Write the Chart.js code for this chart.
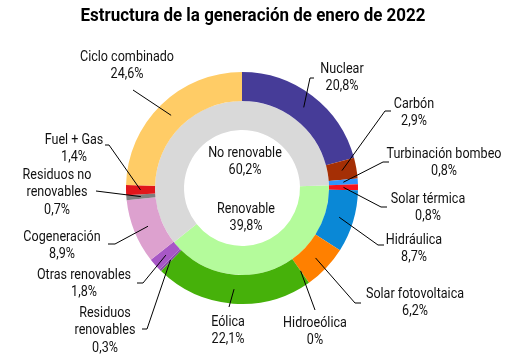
<!DOCTYPE html>
<html>
<head>
<meta charset="utf-8">
<script src="https://cdn.jsdelivr.net/npm/chart.js@4/dist/chart.umd.min.js"></script>
<style>
  html, body { margin: 0; padding: 0; background: #fff; }
  #wrap { width: 520px; height: 361px; position: relative; }
</style>
</head>
<body>
<div id="wrap"><canvas id="chart"></canvas></div>
<script>
// data (percent of January 2022 generation)
const title = 'Estructura de la generación de enero de 2022';
const categories = [
    'Nuclear', 'Carbón', 'Turbinación bombeo', 'Solar térmica', 'Hidráulica',
    'Solar fotovoltaica', 'Hidroeólica', 'Eólica', 'Residuos\nrenovables',
    'Otras renovables', 'Cogeneración', 'Residuos no\nrenovables', 'Fuel + Gas',
    'Ciclo combinado'
];
const shares = [20.8, 2.9, 0.8, 0.8, 8.7, 6.2, 0, 22.1, 0.3, 1.8, 8.9, 0.7, 1.4, 24.6];
const renewable = [false, false, false, true, true, true, true, true, true, true, false, false, false, false];
const groups = ['Renovable', 'No renovable'];
const groupShares = [39.8, 60.2];

const colors = [
    '#463C98', '#A52F05', '#2E95FF', '#F5141E', '#0A88D6',
    '#FF8000', '#6FB7D9', '#46B10A', '#8A4BA8',
    '#A757C6', '#DDA1CF', '#7F7F7F', '#E1161B', '#FFCC66'
];
const groupColors = ['#B4FB9B', '#D9D9D9'];

const FONT = 'Roboto, "Noto Sans", sans-serif';

// label placement: text centre x, first line y, leader elbow x/y, tick length
const labelSpots = [
    [342, 69, 310, 78, 4],     // Nuclear
    [414, 104, 385, 111, 6],   // Carbón
    [444, 154, 383, 162, 6],   // Turbinación bombeo
    [428, 199, 381, 207, 6],   // Solar térmica
    [414, 240, 378, 245, 6],   // Hidráulica
    [415, 294, 355, 303, 6],   // Solar fotovoltaica
    [315, 323, 315, 310, 0],   // Hidroeólica
    [228, 322, 229, 307, 0],   // Eólica
    [105, 313, 147, 329, -5],  // Residuos renovables
    [84, 275, 143, 283, -6],   // Otras renovables
    [62, 237, 115, 244, -7],   // Cogeneración
    [57, 175, 96, 191, 0],     // Residuos no renovables
    [74, 140, 109, 145, -4],   // Fuel + Gas
    [127, 57, 133, 90, 0]      // Ciclo combinado
];

function pct(v) {
    return v === 0 ? '0%' : v.toFixed(1).replace('.', ',') + '%';
}

// the reference uses a condensed face, so squeeze Roboto horizontally
function squeezed(ctx, text, x, y, sx) {
    ctx.save();
    ctx.translate(x, y);
    ctx.scale(sx, 1);
    ctx.fillText(text, 0, 0);
    ctx.restore();
}

// where the renewable half of the inner ring starts
const firstRen = renewable.indexOf(true);
const innerStart = shares.slice(0, firstRen).reduce((a, b) => a + b, 0) * 3.6;

const labelsPlugin = {
    id: 'labels',
    afterDatasetsDraw(chart) {
        const ctx = chart.ctx;
        const arcs = chart.getDatasetMeta(0).data;
        ctx.save();
        ctx.strokeStyle = '#000';
        ctx.lineWidth = 1;
        ctx.fillStyle = '#111';
        ctx.font = '15px ' + FONT;
        ctx.textAlign = 'center';
        ctx.textBaseline = 'middle';
        const sx = 115 / ctx.measureText('Turbinación bombeo').width;
        arcs.forEach((arc, i) => {
            const s = labelSpots[i];
            const p = arc.getCenterPoint();
            ctx.beginPath();
            ctx.moveTo(p.x, p.y);
            ctx.lineTo(s[2], s[3]);
            if (s[4]) ctx.lineTo(s[2] + s[4], s[3]);
            ctx.stroke();
            const lines = categories[i].split('\n').concat(pct(shares[i]));
            lines.forEach((t, k) => squeezed(ctx, t, s[0], s[1] + k * 17.5, sx));
        });
        // inner ring text
        const c = arcs[0];
        const cx = c.x, cy = c.y;
        squeezed(ctx, groups[1], cx + 3, cy - 35, sx);
        squeezed(ctx, pct(groupShares[1]), cx + 3, cy - 18, sx);
        squeezed(ctx, groups[0], cx + 4, cy + 21, sx);
        squeezed(ctx, pct(groupShares[0]), cx + 4, cy + 38, sx);
        // title
        ctx.fillStyle = '#000';
        ctx.font = 'bold 18px ' + FONT;
        const tx = 345 / ctx.measureText(title).width;
        squeezed(ctx, title, 253, 16, tx);
        ctx.restore();
    }
};

new Chart(document.getElementById('chart'), {
    type: 'doughnut',
    data: {
        labels: categories,
        datasets: [
            {
                data: shares,
                backgroundColor: colors,
                borderWidth: 0
            },
            {
                data: groupShares,
                backgroundColor: groupColors,
                borderWidth: 0,
                rotation: innerStart
            }
        ]
    },
    options: {
        responsive: true,
        maintainAspectRatio: false,
        animation: false,
        cutout: '50%',
        hoverOffset: 0,
        layout: { padding: { left: 126, right: 162, top: 72, bottom: 57 } },
        plugins: {
            legend: { display: false },
            tooltip: { enabled: false },
            title: { display: false }
        }
    },
    plugins: [labelsPlugin]
});
</script>
</body>
</html>
